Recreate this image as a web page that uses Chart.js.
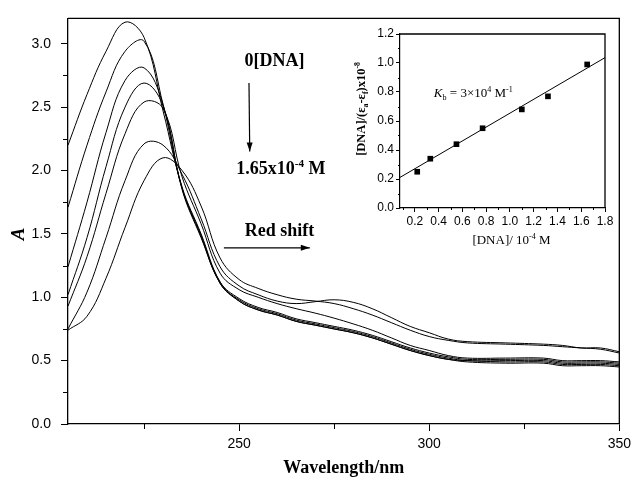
<!DOCTYPE html>
<html>
<head>
<meta charset="utf-8">
<script src="https://cdn.jsdelivr.net/npm/chart.js@4.4.1/dist/chart.umd.min.js"></script>
<style>
  body { margin: 0; background: #fff; }
  #wrap { position: relative; width: 636px; height: 479px; }
  #main { position: absolute; left: 0; top: 0; }
  #inset { position: absolute; left: 340px; top: 10px; }
</style>
</head>
<body>
<div id="wrap">
  <canvas id="main" width="636" height="479"></canvas>
  <canvas id="inset" width="290" height="250"></canvas>
</div>
<script>
// ---- main spectra ----
const wavelength = [205, 210, 215, 220, 225, 230, 235, 240, 245, 250, 255, 260, 265, 270,
    275, 280, 285, 290, 295, 300, 305, 310, 320, 330, 335, 340, 345, 350];
const abs1 = [2.20, 2.60, 2.94, 3.17, 3.05, 2.47, 1.87, 1.50, 1.12, 0.97, 0.90, 0.86, 0.81, 0.78,
    0.75, 0.72, 0.68, 0.63, 0.58, 0.54, 0.51, 0.49, 0.48, 0.48, 0.46, 0.46, 0.46, 0.45];
const abs2 = [1.71, 2.20, 2.62, 2.94, 3.02, 2.52, 1.86, 1.49, 1.11, 0.97, 0.90, 0.86, 0.81, 0.78,
    0.75, 0.72, 0.68, 0.63, 0.58, 0.54, 0.51, 0.50, 0.49, 0.49, 0.47, 0.47, 0.47, 0.46];
const abs3 = [1.24, 1.75, 2.30, 2.71, 2.81, 2.52, 1.86, 1.48, 1.11, 0.98, 0.91, 0.87, 0.82, 0.79,
    0.76, 0.73, 0.69, 0.64, 0.59, 0.55, 0.52, 0.50, 0.50, 0.50, 0.48, 0.48, 0.48, 0.47];
const abs4 = [1.02, 1.47, 2.03, 2.50, 2.69, 2.51, 1.85, 1.47, 1.12, 0.99, 0.92, 0.88, 0.83, 0.80,
    0.77, 0.74, 0.70, 0.65, 0.60, 0.56, 0.53, 0.51, 0.51, 0.51, 0.49, 0.49, 0.49, 0.48];
const abs5 = [0.93, 1.32, 1.82, 2.29, 2.54, 2.49, 1.95, 1.58, 1.19, 1.06, 1.00, 0.95, 0.91, 0.875,
    0.835, 0.79, 0.74, 0.68, 0.62, 0.58, 0.54, 0.52, 0.52, 0.52, 0.50, 0.50, 0.50, 0.49];
const abs6 = [0.75, 1.04, 1.47, 1.92, 2.21, 2.20, 1.97, 1.62, 1.24, 1.09, 1.02, 0.97, 0.95, 0.965,
    0.98, 0.96, 0.91, 0.84, 0.77, 0.72, 0.67, 0.65, 0.64, 0.63, 0.62, 0.60, 0.60, 0.57];
const abs7 = [0.74, 0.85, 1.15, 1.55, 1.92, 2.10, 2.00, 1.72, 1.31, 1.14, 1.07, 1.02, 0.985, 0.97,
    0.95, 0.91, 0.86, 0.80, 0.74, 0.69, 0.66, 0.64, 0.63, 0.62, 0.61, 0.60, 0.59, 0.56];

const xTicks = [250, 300, 350];
const xMinor = [225, 275, 325];
const yTicks = [0, 0.5, 1.0, 1.5, 2.0, 2.5, 3.0];
const yMinor = [0.25, 0.75, 1.25, 1.75, 2.25, 2.75];

// ---- inset (binding plot) ----
const dnaConc = [0.22, 0.33, 0.55, 0.77, 1.10, 1.32, 1.65];
const ratio = [0.25, 0.34, 0.44, 0.55, 0.68, 0.77, 0.99];
const fitX = [0.075, 1.8];
const fitY = [0.211, 1.037];
const inXTicks = [0.2, 0.4, 0.6, 0.8, 1.0, 1.2, 1.4, 1.6, 1.8];
const inXMinor = [0.1, 0.3, 0.5, 0.7, 0.9, 1.1, 1.3, 1.5, 1.7];
const inYTicks = [0, 0.2, 0.4, 0.6, 0.8, 1.0, 1.2];
const inYMinor = [0.1, 0.3, 0.5, 0.7, 0.9, 1.1];

const SANS = "'Liberation Sans', Arial, sans-serif";
const SERIF = "'Liberation Serif', 'Times New Roman', serif";

function pts(xs, ys) {
    return xs.map((x, i) => ({ x: x, y: ys[i] }));
}

// draw a line of text made of runs, some in superscript / subscript
function drawRich(ctx, runs, x, y, size, weight, align) {
    const fontOf = (r) => {
        const s = (r.sup || r.sub) ? size * 0.62 : size;
        return (r.italic ? 'italic ' : '') + weight + ' ' + s + 'px ' + SERIF;
    };
    let w = 0;
    runs.forEach(r => { ctx.font = fontOf(r); w += ctx.measureText(r.t).width; });
    let cx = align === 'center' ? x - w / 2 : x;
    ctx.textAlign = 'left';
    ctx.textBaseline = 'alphabetic';
    runs.forEach(r => {
        ctx.font = fontOf(r);
        let dy = 0;
        if (r.sup) dy = -size * 0.38;
        if (r.sub) dy = size * 0.22;
        ctx.fillText(r.t, cx, y + dy);
        cx += ctx.measureText(r.t).width;
    });
}

function minorTicks(chart, xs, ys, len) {
    const ctx = chart.ctx;
    const a = chart.chartArea;
    const sx = chart.scales.x, sy = chart.scales.y;
    ctx.save();
    ctx.strokeStyle = '#000';
    ctx.lineWidth = 1;
    ctx.beginPath();
    xs.forEach(v => {
        const p = Math.round(sx.getPixelForValue(v)) + 0.5;
        ctx.moveTo(p, a.bottom);
        ctx.lineTo(p, a.bottom + len);
    });
    ys.forEach(v => {
        const p = Math.round(sy.getPixelForValue(v)) + 0.5;
        ctx.moveTo(a.left, p);
        ctx.lineTo(a.left - len, p);
    });
    ctx.stroke();
    // top and right frame
    ctx.lineWidth = 1.3;
    ctx.beginPath();
    ctx.moveTo(a.left, a.top);
    ctx.lineTo(a.right, a.top);
    ctx.lineTo(a.right, a.bottom);
    ctx.stroke();
    ctx.restore();
}

function arrow(ctx, x1, y1, x2, y2) {
    const ang = Math.atan2(y2 - y1, x2 - x1);
    ctx.beginPath();
    ctx.moveTo(x1, y1);
    ctx.lineTo(x2, y2);
    ctx.stroke();
    ctx.beginPath();
    ctx.moveTo(x2, y2);
    ctx.lineTo(x2 - 9 * Math.cos(ang) + 3 * Math.sin(ang), y2 - 9 * Math.sin(ang) - 3 * Math.cos(ang));
    ctx.lineTo(x2 - 9 * Math.cos(ang) - 3 * Math.sin(ang), y2 - 9 * Math.sin(ang) + 3 * Math.cos(ang));
    ctx.closePath();
    ctx.fill();
}

const mainDecor = {
    id: 'mainDecor',
    afterDraw(chart) {
        minorTicks(chart, xMinor, yMinor, 5);
        const ctx = chart.ctx;
        const sx = chart.scales.x, sy = chart.scales.y;
        const px = v => sx.getPixelForValue(v);
        const py = v => sy.getPixelForValue(v);
        ctx.save();
        ctx.fillStyle = '#000';
        ctx.strokeStyle = '#000';
        ctx.lineWidth = 1.2;
        drawRich(ctx, [{ t: '0[DNA]' }], px(259.3), py(2.87) + 6, 18, 'bold', 'center');
        arrow(ctx, px(252.6), py(2.69), px(252.8), py(2.15));
        drawRich(ctx, [{ t: '1.65x10' }, { t: '-4', sup: true }, { t: ' M' }], px(261), py(2.02) + 6, 18, 'bold', 'center');
        drawRich(ctx, [{ t: 'Red shift' }], px(260.6), py(1.53) + 6, 18, 'bold', 'center');
        arrow(ctx, px(246), py(1.39), px(268.6), py(1.39));
        // y axis title
        ctx.translate(24, py(1.50));
        ctx.rotate(-Math.PI / 2);
        drawRich(ctx, [{ t: 'A', italic: true }], 0, 0, 19, 'bold', 'center');
        ctx.restore();
    }
};

const insetDecor = {
    id: 'insetDecor',
    afterDraw(chart) {
        minorTicks(chart, inXMinor, inYMinor, 2);
        const ctx = chart.ctx;
        const a = chart.chartArea;
        const sx = chart.scales.x, sy = chart.scales.y;
        ctx.save();
        ctx.fillStyle = '#000';
        drawRich(ctx, [{ t: 'K', italic: true }, { t: 'b', sub: true }, { t: ' = 3\u00d710' }, { t: '4', sup: true },
            { t: ' M' }, { t: '-1', sup: true }], sx.getPixelForValue(0.36), sy.getPixelForValue(0.8) + 5, 13, 'normal', 'left');
        drawRich(ctx, [{ t: '[DNA]/ 10' }, { t: '-4', sup: true }, { t: ' M' }], (a.left + a.right) / 2 + 9, a.bottom + 36, 13, 'normal', 'center');
        ctx.translate(25, (a.top + a.bottom) / 2 - 12);
        ctx.rotate(-Math.PI / 2);
        drawRich(ctx, [{ t: '[DNA]/(' }, { t: '\u03b5' }, { t: 'a', sub: true }, { t: '-' }, { t: '\u03b5' }, { t: 'f', sub: true },
            { t: ')x10' }, { t: '-8', sup: true }], 0, 0, 12.5, 'bold', 'center');
        ctx.restore();
    }
};

const lineSet = (arr) => ({
    data: pts(wavelength, arr),
    borderColor: '#000',
    borderWidth: 1,
    pointRadius: 0,
    fill: false,
    tension: 0.4
});

const mainChart = new Chart(document.getElementById('main'), {
    type: 'line',
    data: {
        datasets: [abs1, abs2, abs3, abs4, abs5, abs6, abs7].map(lineSet)
    },
    options: {
        responsive: false,
        animation: false,
        layout: { padding: { top: 14, right: 15, left: 0, bottom: 0 } },
        plugins: { legend: { display: false }, tooltip: { enabled: false } },
        scales: {
            x: {
                type: 'linear',
                min: 205,
                max: 350,
                afterBuildTicks: (s) => { s.ticks = xTicks.map(v => ({ value: v })); },
                afterFit: (s) => { s.height = 55; },
                ticks: { color: '#000', font: { family: SANS, size: 14 }, padding: 5, maxRotation: 0 },
                grid: { drawOnChartArea: false, tickLength: 7, color: '#000', lineWidth: 1 },
                border: { color: '#000', width: 1.3 },
                title: { display: true, text: 'Wavelength/nm', color: '#000', padding: 0,
                    font: { family: SERIF, size: 18, weight: 'bold' } }
            },
            y: {
                min: 0,
                max: 3.2,
                afterBuildTicks: (s) => { s.ticks = yTicks.map(v => ({ value: v })); },
                afterFit: (s) => { s.width = 68; },
                ticks: { color: '#000', font: { family: SANS, size: 14 }, padding: 10,
                    callback: (v) => Number(v).toFixed(1) },
                grid: { drawOnChartArea: false, tickLength: 7, color: '#000', lineWidth: 1 },
                border: { color: '#000', width: 1.3 }
            }
        }
    },
    plugins: [mainDecor]
});

const insetChart = new Chart(document.getElementById('inset'), {
    type: 'line',
    data: {
        datasets: [
            {
                data: pts(dnaConc, ratio),
                showLine: false,
                pointStyle: 'rect',
                pointRadius: 4,
                backgroundColor: '#000',
                borderColor: '#000',
                borderWidth: 0
            },
            {
                data: pts(fitX, fitY),
                borderColor: '#000',
                borderWidth: 1,
                pointRadius: 0,
                fill: false
            }
        ]
    },
    options: {
        responsive: false,
        animation: false,
        layout: { padding: { top: 24, right: 25, left: 0, bottom: 0 } },
        plugins: { legend: { display: false }, tooltip: { enabled: false } },
        scales: {
            x: {
                type: 'linear',
                min: 0.075,
                max: 1.8,
                afterBuildTicks: (s) => { s.ticks = inXTicks.map(v => ({ value: v })); },
                afterFit: (s) => { s.height = 52; },
                ticks: { color: '#000', font: { family: SANS, size: 12 }, padding: 2, maxRotation: 0,
                    callback: (v) => Number(v).toFixed(1) },
                grid: { drawOnChartArea: false, tickLength: 4, color: '#000', lineWidth: 1 },
                border: { color: '#000', width: 1.2 }
            },
            y: {
                min: 0,
                max: 1.2,
                afterBuildTicks: (s) => { s.ticks = inYTicks.map(v => ({ value: v })); },
                afterFit: (s) => { s.width = 60; },
                ticks: { color: '#000', font: { family: SANS, size: 12 }, padding: 2,
                    callback: (v) => Number(v).toFixed(1) },
                grid: { drawOnChartArea: false, tickLength: 4, color: '#000', lineWidth: 1 },
                border: { color: '#000', width: 1.2 }
            }
        }
    },
    plugins: [insetDecor]
});
</script>
</body>
</html>
